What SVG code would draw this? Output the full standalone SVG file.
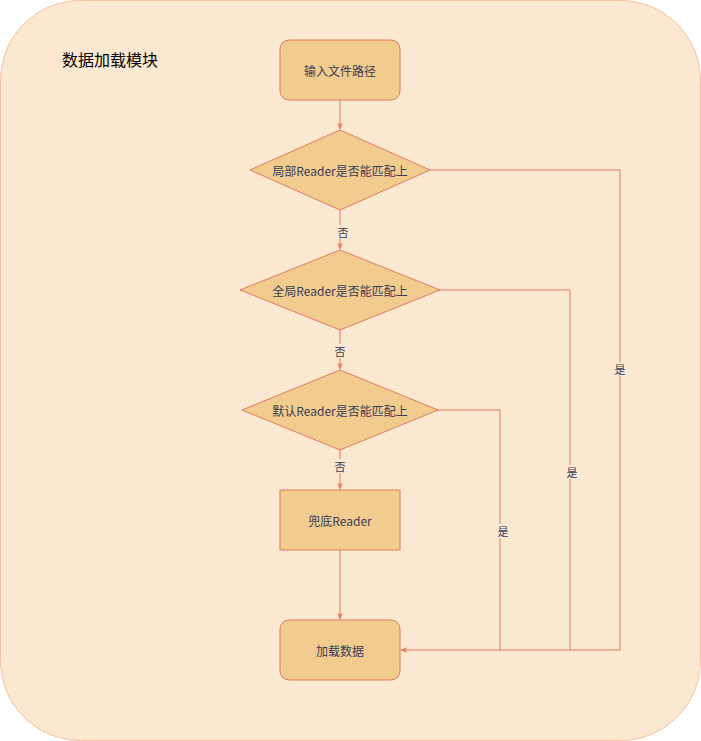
<svg xmlns="http://www.w3.org/2000/svg" width="701" height="741" viewBox="0 0 701 741">
<style>
.n{fill:#F2CC8F;stroke:#E07A5F;stroke-width:1}
.t{font-family:"Noto Sans CJK SC",sans-serif;font-size:12px;fill:#393C56;text-anchor:middle;dominant-baseline:central}
.c{fill:none;stroke:#E07A5F;stroke-width:1}
.l{font-family:"Noto Sans CJK SC",sans-serif;font-size:11px;fill:#393C56;text-anchor:middle;dominant-baseline:central}
</style>
<defs><marker id="a" viewBox="0 0 10 10" refX="9" refY="5" markerWidth="7" markerHeight="7" orient="auto"><path d="M0,1 L10,5 L0,9 L3,5 Z" fill="#E07A5F"/></marker></defs>
<g id="module"><rect x="0.5" y="0.5" width="700" height="740" rx="80" fill="#FBE8D1" stroke="#F4C0A2"/>
<text x="110" y="59" font-family="Noto Sans CJK SC,sans-serif" font-size="16" fill="#000" text-anchor="middle" dominant-baseline="central">数据加载模块</text></g>
<g id="connectors">
<path class="c" d="M340,100V129" marker-end="url(#a)"/>
<path class="c" d="M340,210V249" marker-end="url(#a)"/>
<path class="c" d="M340,330V369" marker-end="url(#a)"/>
<path class="c" d="M340,450V489" marker-end="url(#a)"/>
<path class="c" d="M340,550V619" marker-end="url(#a)"/>
<path class="c" d="M430,170H620V650H401" marker-end="url(#a)"/>
<path class="c" d="M440,290H570V650"/>
<path class="c" d="M438,410H500V650"/>
<rect x="334" y="225" width="18" height="14" fill="#FBE8D1"/><text class="l" x="343" y="232">否</text>
<rect x="331" y="344" width="18" height="14" fill="#FBE8D1"/><text class="l" x="340" y="351">否</text>
<rect x="331" y="459" width="18" height="14" fill="#FBE8D1"/><text class="l" x="340" y="466">否</text>
<rect x="612" y="362" width="16" height="14" fill="#FBE8D1"/><text class="l" x="620" y="369">是</text>
<rect x="564" y="465" width="16" height="14" fill="#FBE8D1"/><text class="l" x="572" y="472">是</text>
<rect x="495" y="524" width="16" height="14" fill="#FBE8D1"/><text class="l" x="503" y="531">是</text>
</g>
<g id="input"><rect class="n" x="280" y="40" width="120" height="60" rx="9"/><text class="t" x="340" y="70">输入文件路径</text></g>
<g id="local"><path class="n" d="M340,130L430,170L340,210L250,170Z"/><text class="t" x="340" y="170">局部Reader是否能匹配上</text></g>
<g id="global"><path class="n" d="M340,250L440,290L340,330L240,290Z"/><text class="t" x="340" y="290">全局Reader是否能匹配上</text></g>
<g id="default"><path class="n" d="M340,370L438,410L340,450L242,410Z"/><text class="t" x="340" y="410">默认Reader是否能匹配上</text></g>
<g id="fallback"><rect class="n" x="280" y="490" width="120" height="60"/><text class="t" x="340" y="520">兜底Reader</text></g>
<g id="load"><rect class="n" x="280" y="620" width="120" height="60" rx="9"/><text class="t" x="340" y="650">加载数据</text></g>
</svg>
